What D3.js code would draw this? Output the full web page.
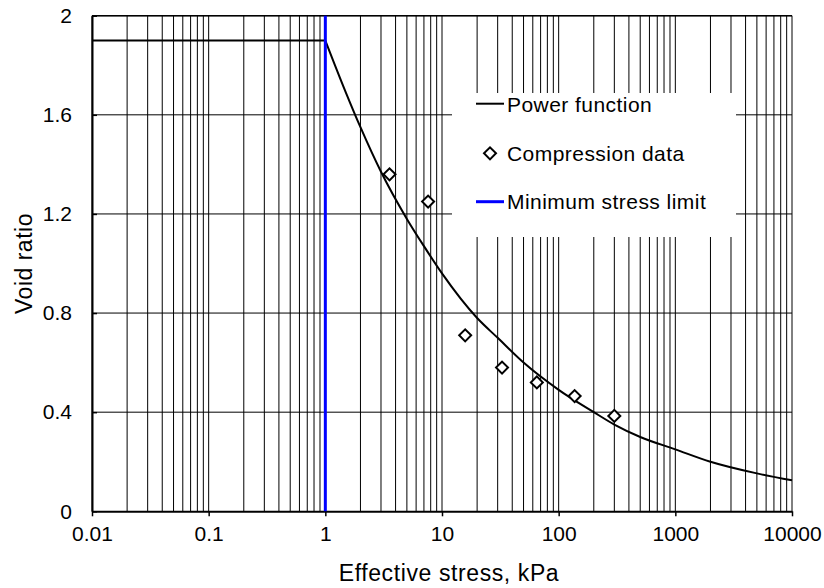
<!DOCTYPE html>
<html>
<head>
<meta charset="utf-8">
<script src="https://cdn.jsdelivr.net/npm/d3@7"></script>
<style>
  html, body { margin: 0; padding: 0; background: #fff; }
  svg { display: block; font-family: "Liberation Sans", Arial, sans-serif; }
</style>
</head>
<body>
<svg id="chart" width="824" height="588"></svg>
<script>
// Plateau of the void ratio below the minimum stress limit
const plateauStress = [0.01, 1];
const plateauRatio = [1.9, 1.9];

// Power-function compression curve above the limit
const curveStress = [1, 1.5, 2, 3, 5, 7, 10, 20, 30, 50, 100, 200, 300, 500, 1000, 2000, 5000, 10000];
const curveRatio = [1.9, 1.69, 1.55, 1.37, 1.18, 1.07, 0.96, 0.78, 0.70, 0.60, 0.49, 0.40, 0.35, 0.30, 0.25, 0.20, 0.153, 0.125];

// Measured compression data
const dataStress = [3.55, 7.6, 15.8, 32.7, 65, 137, 300];
const dataRatio = [1.36, 1.25, 0.71, 0.58, 0.52, 0.465, 0.385];

// Minimum stress limit
const minStress = 1;

// Axis ticks
const xTicks = [0.01, 0.1, 1, 10, 100, 1000, 10000];
const xTickLabels = ["0.01", "0.1", "1", "10", "100", "1000", "10000"];
const yTicks = [0, 0.4, 0.8, 1.2, 1.6, 2];
const yTickLabels = ["0", "0.4", "0.8", "1.2", "1.6", "2"];

const legendLabels = ["Power function", "Compression data", "Minimum stress limit"];

const svg = d3.select("#chart");
const plotLeft = 92, plotRight = 792, plotTop = 15.7, plotBottom = 511.3;

const x = d3.scaleLog().domain([0.01, 10000]).range([plotLeft, plotRight]);
const y = d3.scaleLinear().domain([0, 2]).range([plotBottom, plotTop]);

// Vertical grid at every log step
const gridX = [];
for (let d = 0.01; d < 10000; d *= 10) {
  for (let k = 1; k <= 9; k++) gridX.push(d * k);
}
gridX.push(10000);

const grid = svg.append("g");
grid.selectAll("line.v").data(gridX).join("line")
  .attr("class", "v")
  .attr("x1", d => x(d)).attr("x2", d => x(d))
  .attr("y1", plotTop).attr("y2", plotBottom)
  .attr("stroke", "#000").attr("stroke-width", 1);

grid.selectAll("line.h").data(yTicks.slice(1)).join("line")
  .attr("class", "h")
  .attr("x1", plotLeft).attr("x2", plotRight)
  .attr("y1", d => y(d)).attr("y2", d => y(d))
  .attr("stroke", "#000").attr("stroke-width", 1);

// Legend background covers the grid
svg.append("rect")
  .attr("x", 452).attr("y", 93).attr("width", 284).attr("height", 144)
  .attr("fill", "#fff");

// Axes
const xAxis = d3.axisBottom(x)
  .tickValues(xTicks)
  .tickFormat((d, i) => xTickLabels[i])
  .tickSizeInner(5).tickSizeOuter(0).tickPadding(10);
const gx = svg.append("g").attr("transform", `translate(0,${plotBottom})`).call(xAxis);
gx.select(".domain").attr("stroke", "#000").attr("stroke-width", 2);
gx.selectAll(".tick line").attr("stroke", "#000").attr("stroke-width", 1.5);
gx.selectAll(".tick text").attr("font-size", 21).attr("fill", "#000")
  .attr("font-family", "'Liberation Sans', Arial, sans-serif");

const yAxis = d3.axisLeft(y)
  .tickValues(yTicks)
  .tickFormat((d, i) => yTickLabels[i])
  .tickSizeInner(-5).tickSizeOuter(0).tickPadding(20);
const gy = svg.append("g").attr("transform", `translate(${plotLeft},0)`).call(yAxis);
gy.select(".domain").attr("stroke", "#000").attr("stroke-width", 2);
gy.selectAll(".tick line").attr("stroke", "#000").attr("stroke-width", 1.5);
gy.selectAll(".tick text").attr("font-size", 21).attr("fill", "#000")
  .attr("font-family", "'Liberation Sans', Arial, sans-serif");

// Top border
svg.append("line")
  .attr("x1", plotLeft).attr("x2", plotRight).attr("y1", plotTop).attr("y2", plotTop)
  .attr("stroke", "#000").attr("stroke-width", 1.5);

// Power function
const plateau = plateauStress.map((s, i) => [s, plateauRatio[i]]);
const decay = curveStress.map((s, i) => [s, curveRatio[i]]);

svg.append("path")
  .attr("d", d3.line().x(d => x(d[0])).y(d => y(d[1]))(plateau))
  .attr("fill", "none").attr("stroke", "#000").attr("stroke-width", 2);

svg.append("path")
  .attr("d", d3.line().x(d => x(d[0])).y(d => y(d[1])).curve(d3.curveMonotoneX)(decay))
  .attr("fill", "none").attr("stroke", "#000").attr("stroke-width", 2);

// Minimum stress limit
svg.append("line")
  .attr("x1", x(minStress)).attr("x2", x(minStress))
  .attr("y1", plotTop).attr("y2", plotBottom)
  .attr("stroke", "#0000ff").attr("stroke-width", 3);

// Compression data markers
const diamond = d3.symbol().type(d3.symbolSquare).size(72);
svg.selectAll("path.pt").data(dataStress.map((s, i) => [s, dataRatio[i]])).join("path")
  .attr("class", "pt")
  .attr("d", diamond)
  .attr("transform", d => `translate(${x(d[0])},${y(d[1])}) rotate(45)`)
  .attr("fill", "#fff").attr("stroke", "#000").attr("stroke-width", 2);

// Legend
const lg = svg.append("g").attr("font-size", 21).attr("fill", "#000")
  .attr("letter-spacing", 0.45);
lg.append("line").attr("x1", 476).attr("x2", 504).attr("y1", 103.7).attr("y2", 103.7)
  .attr("stroke", "#000").attr("stroke-width", 2);
lg.append("path").attr("d", diamond)
  .attr("transform", "translate(490,153.3) rotate(45)")
  .attr("fill", "#fff").attr("stroke", "#000").attr("stroke-width", 2);
lg.append("line").attr("x1", 476).attr("x2", 504).attr("y1", 201.7).attr("y2", 201.7)
  .attr("stroke", "#0000ff").attr("stroke-width", 3);
[111.5, 160.5, 208.5].forEach((yy, i) => {
  lg.append("text").attr("x", 507).attr("y", yy).text(legendLabels[i]);
});

// Axis titles
svg.append("text")
  .attr("x", 449).attr("y", 581)
  .attr("text-anchor", "middle").attr("font-size", 23)
  .attr("letter-spacing", 0.6)
  .text("Effective stress, kPa");

svg.append("text")
  .attr("transform", "translate(32,263.5) rotate(-90)")
  .attr("text-anchor", "middle").attr("font-size", 23)
  .attr("letter-spacing", 0.5)
  .text("Void ratio");
</script>
</body>
</html>
